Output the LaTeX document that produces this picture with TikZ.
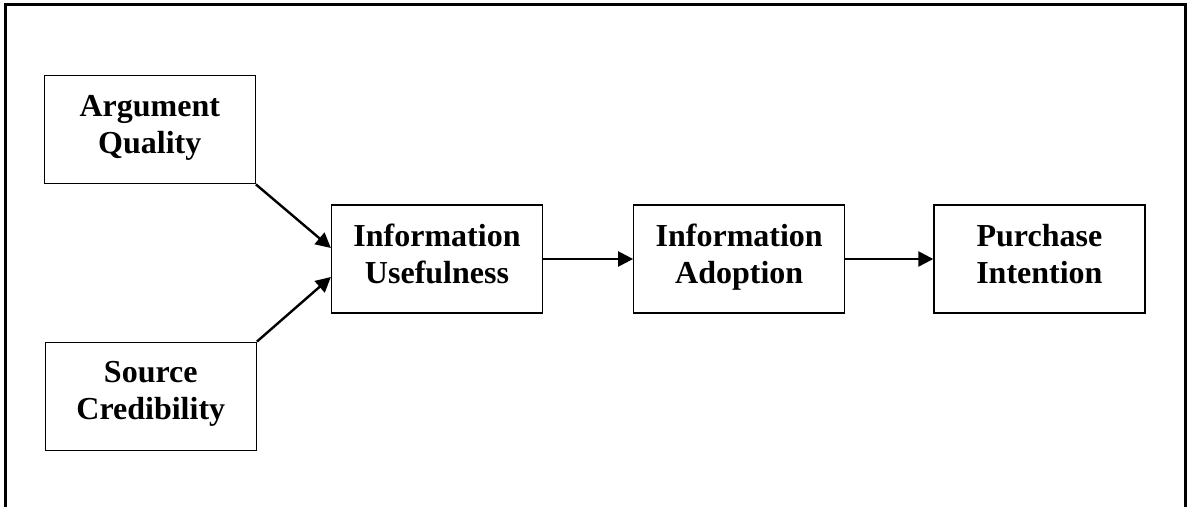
\documentclass[tikz,border=0pt]{standalone}
\usepackage{fontspec}
\setmainfont{Liberation Serif}
\usepackage{tikz}
\usetikzlibrary{positioning, arrows.meta}

\tikzset{
	factor/.style={draw, line width=0.6pt, minimum width=105.5pt, minimum height=54pt, align=center, inner sep=0pt,
		font=\fontsize{16pt}{18.5pt}\selectfont\bfseries,
		execute at begin node=\strut, execute at end node={\rule[-5.45pt]{0pt}{5.45pt}}},
	link/.style={line width=1.2pt, -{Triangle[length=7.5pt, width=7.5pt]}},
}

\begin{document}
\begin{tikzpicture}[baseline=(current bounding box.center)]
	\useasboundingbox (-218.5pt,-124pt) rectangle (376pt,129.5pt);
	\draw[line width=1.5pt] (-215.5pt,-130pt) -- (-215.5pt,127pt) -- (374pt,127pt) -- (374pt,-130pt);
	
	\node[factor] (iu) at (0,0) {Information\\Usefulness};
	\node[factor, right=45pt of iu] (ia) {Information\\Adoption};
	\node[factor, right=44pt of ia] (pi) {Purchase\\Intention};
	
	\node[factor, above left=10pt and 37.5pt of iu] (aq) {Argument\\Quality};
	\node[factor, below left=14pt and 37pt of iu] (sc) {Source\\Credibility};
	
	\draw[link] (aq.south east) -- ([yshift=5.5pt]iu.west);
	\draw[link] (sc.north east) -- ([yshift=-9pt]iu.west);
	\draw[link] (iu) -- (ia);
	\draw[link] (ia) -- (pi);
\end{tikzpicture}
\end{document}
